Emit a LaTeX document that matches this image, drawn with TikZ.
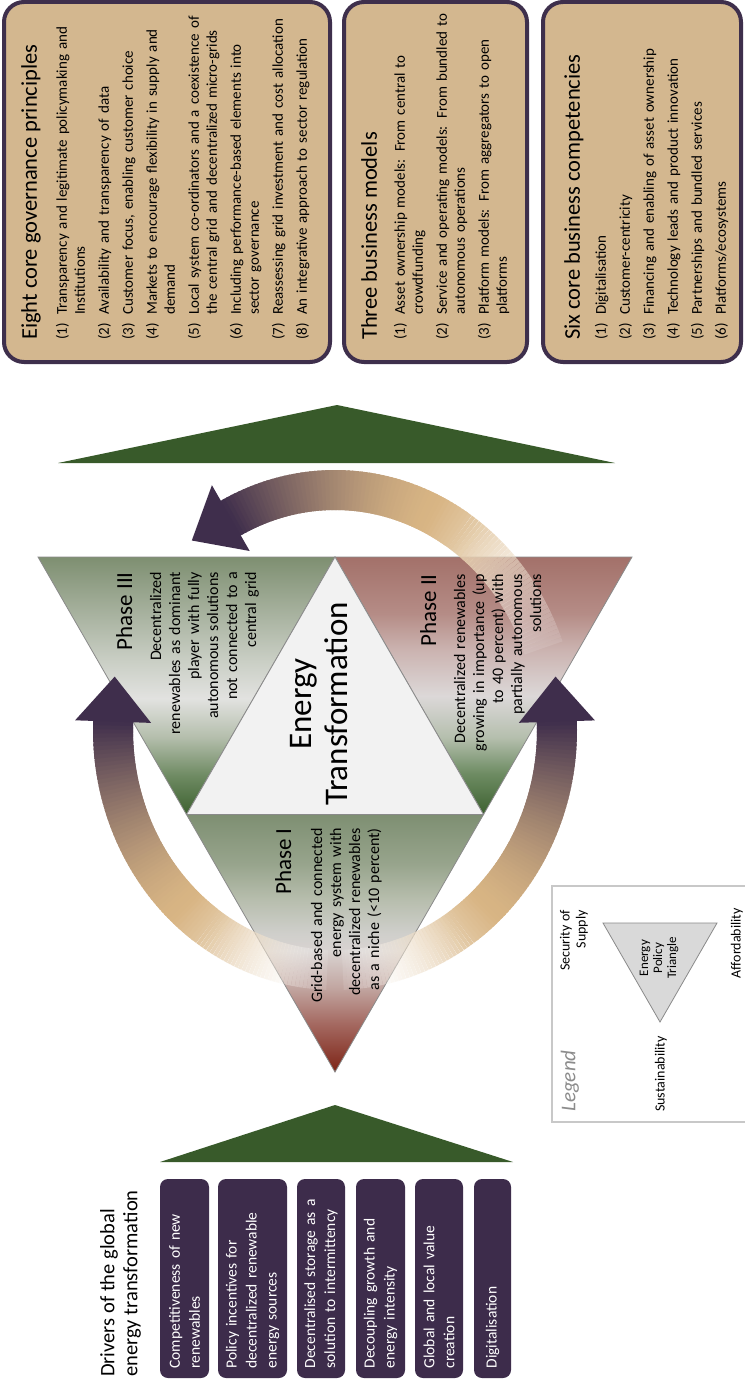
\documentclass[tikz,border=0pt]{standalone}
\usepackage{fontspec}
\setmainfont{Carlito}
\usetikzlibrary{calc}
\definecolor{boxtan}{HTML}{D3B78F}
\definecolor{boxedge}{HTML}{3E2F4C}
\definecolor{drvpurple}{HTML}{3D2C4B}
\definecolor{darkgreen}{HTML}{385A2A}
\definecolor{phline}{HTML}{8A8A8A}
\definecolor{centerfill}{HTML}{F2F2F2}
\definecolor{arrtan}{HTML}{D8B584}
\definecolor{arrpurple}{HTML}{3F2E4C}
\definecolor{legendgray}{HTML}{8C8C8C}
\definecolor{legendline}{HTML}{C8C8C8}
\definecolor{legendfill}{HTML}{D9D9D9}
% phase III stops
\definecolor{pta}{HTML}{3D6130}
\definecolor{ptb}{HTML}{6E8A62}
\definecolor{ptc}{HTML}{B4BEAC}
\definecolor{ptd}{HTML}{E2E2E0}
\definecolor{pte}{HTML}{C9CEC4}
\definecolor{ptf}{HTML}{7E8F71}
% phase II stops
\definecolor{pwa}{HTML}{3D6130}
\definecolor{pwb}{HTML}{6E8C63}
\definecolor{pwc}{HTML}{B5BFAE}
\definecolor{pwd}{HTML}{DCD8D8}
\definecolor{pwe}{HTML}{CBB3B0}
\definecolor{pwf}{HTML}{B58C86}
\definecolor{pwg}{HTML}{A3716A}
% phase I stops
\definecolor{poa}{HTML}{7D2416}
\definecolor{pob}{HTML}{A56A62}
\definecolor{poc}{HTML}{C2A7A2}
\definecolor{pod}{HTML}{D9D3D1}
\definecolor{poe}{HTML}{CFCFCB}
\definecolor{pof}{HTML}{B5BCAB}
\definecolor{pog}{HTML}{97A48C}
\definecolor{poh}{HTML}{7E8F72}
\pgfdeclareverticalshading{phthree}{100bp}{color(0bp)=(pta); color(25bp)=(pta); color(32.5bp)=(ptb); color(40bp)=(ptc); color(47.5bp)=(ptd); color(55bp)=(pte); color(75bp)=(ptf); color(100bp)=(ptf)}
\pgfdeclareverticalshading{phtwo}{100bp}{color(0bp)=(pwa); color(25bp)=(pwa); color(33bp)=(pwb); color(40bp)=(pwc); color(48bp)=(pwd); color(57bp)=(pwe); color(64bp)=(pwf); color(75bp)=(pwg); color(100bp)=(pwg)}
\pgfdeclareverticalshading{phone}{100bp}{color(0bp)=(poa); color(25bp)=(poa); color(34.5bp)=(pob); color(41.5bp)=(poc); color(48.5bp)=(pod); color(52bp)=(poe); color(59bp)=(pof); color(65.5bp)=(pog); color(75bp)=(poh); color(100bp)=(poh)}
\newcommand{\numitem}[2]{\par\hangindent=25pt\hangafter=1\noindent\makebox[25pt][l]{#1}#2}
\newcommand{\ringarrow}[2]{%
  \foreach \k in {0,...,95}{%
    \pgfmathsetmacro{\arcT}{(\k+0.5)/96}%
    \pgfmathsetmacro{\arcO}{min(1,0.1+\arcT*2.5)}%
    \pgfmathsetmacro{\arcA}{#1+(#2-(#1))*\k/96}%
    \pgfmathsetmacro{\arcB}{#1+(#2-(#1))*(\k+1+ifthenelse(\arcO>=0.999,0.7,0))/96}%
    \pgfmathsetmacro{\arcW}{100*max(0,min(1,(\arcT-0.05)/0.4))}%
    \pgfmathsetmacro{\arcP}{100*(max(0,min(1,(\arcT-0.45)/0.55)))^1.5}%
    \colorlet{segA}{arrtan!\arcW!white}%
    \colorlet{segB}{arrpurple!\arcP!segA}%
    \draw[line width=40pt, draw=segB, draw opacity=\arcO] ($(O)+(\arcA:222 and 240)$) arc[start angle=\arcA, end angle=\arcB, x radius=222, y radius=240];
  }}
\begin{document}
\begin{tikzpicture}[x=1pt,y=-1pt,
  tanbox/.style={draw=boxedge, line width=4pt, fill=boxtan, rounded corners=20pt, rotate=90, inner sep=0pt},
  boxtext/.style={rotate=90, text width=335pt, align=left, inner sep=0pt, anchor=north west, font=\fontsize{15}{18}\selectfont},
  drvbox/.style={rotate=90, fill=drvpurple, rounded corners=8pt, text=white, align=left, text width=180pt, minimum width=199pt, inner sep=0pt, font=\fontsize{15.5}{20}\selectfont},
  phasetext/.style={rotate=90, text width=200pt, align=right, inner sep=0pt, anchor=north east, font=\fontsize{16}{19}\selectfont},
  phedge/.style={draw=phline, line width=0.8pt},
  headfill/.style={fill=arrpurple},
]
\useasboundingbox (0,0) rectangle (744,1383);
\fill[white] (0,0) rectangle (744,1383);

% ---------- top boxes ----------
\node[tanbox, minimum width=360pt, minimum height=326pt] (eightbox) at (167,182) {};
\node[tanbox, minimum width=360pt, minimum height=183pt] (threebox) at (435.5,182) {};
\node[tanbox, minimum width=360pt, minimum height=198pt] (sixbox) at (642,182) {};

\node[boxtext] (eighttext) at (21,340) {\setlength{\parskip}{6pt}{\fontsize{22.5}{27}\selectfont Eight core governance principles\par}\vspace{6pt}%
\numitem{(1)}{Transparency and legitimate policymaking and\newline Institutions}
\numitem{(2)}{Availability and transparency of data}
\numitem{(3)}{Customer focus, enabling customer choice}
\numitem{(4)}{Markets to encourage flexibility in supply and\newline demand}
\numitem{(5)}{Local system co-ordinators and a coexistence of\newline the central grid and decentralized micro-grids}
\numitem{(6)}{Including performance-based elements into\newline sector governance}
\numitem{(7)}{Reassessing grid investment and cost allocation}
\numitem{(8)}{An integrative approach to sector regulation}\par};

\node[boxtext] (threetext) at (361,340) {\setlength{\parskip}{6pt}{\fontsize{22.5}{27}\selectfont Three business models\par}\vspace{4pt}%
\numitem{(1)}{Asset ownership models: From central to\newline crowdfunding}
\numitem{(2)}{Service and operating models: From bundled to\newline autonomous operations}
\numitem{(3)}{Platform models: From aggregators to open\newline platforms}\par};

\node[boxtext] (sixtext) at (564,340) {\setlength{\parskip}{6pt}{\fontsize{22.5}{27}\selectfont Six core business competencies\par}\vspace{2pt}%
\numitem{(1)}{Digitalisation}
\numitem{(2)}{Customer-centricity}
\numitem{(3)}{Financing and enabling of asset ownership}
\numitem{(4)}{Technology leads and product innovation}
\numitem{(5)}{Partnerships and bundled services}
\numitem{(6)}{Platforms/ecosystems}\par};

% ---------- green wedges ----------
\coordinate (gta) at (58,463);
\coordinate (gtb) at (615,463);
\coordinate (gtc) at (337,405);
\fill[darkgreen] (gta) -- (gtb) -- (gtc) -- cycle;
\coordinate (gba) at (160,1162);
\coordinate (gbb) at (513,1162);
\coordinate (gbc) at (335,1105);
\fill[darkgreen] (gba) -- (gbb) -- (gbc) -- cycle;

% ---------- phase triangles ----------
\coordinate (A) at (38,557);
\coordinate (B) at (632,557);
\coordinate (C) at (335,1072);
\coordinate (M3) at (335,557);
\coordinate (M1) at (483.5,814.5);
\coordinate (M2) at (186.5,814.5);
\path[phedge, shade, shading=phthree] (A) -- (M3) -- (M2) -- cycle;
\path[phedge, shade, shading=phtwo] (M3) -- (B) -- (M1) -- cycle;
\path[phedge, shade, shading=phone] (M2) -- (M1) -- (C) -- cycle;
\path[phedge, fill=centerfill] (M3) -- (M1) -- (M2) -- cycle;

% ---------- ring arrows ----------
\coordinate (O) at (335,730);
\ringarrow{92}{182}
\ringarrow{88}{-2}
\ringarrow{-20}{-118}
\coordinate (lht) at (114.7,676.6);
\coordinate (lhb1) at (151.1,722.9);
\coordinate (lhb2) at (75.1,720.3);
\fill[headfill] (lht) -- (lhb1) -- (lhb2) -- cycle;
\coordinate (rht) at (555.5,676.6);
\coordinate (rhb1) at (594.9,720.4);
\coordinate (rhb2) at (518.9,722.8);
\fill[headfill] (rht) -- (rhb1) -- (rhb2) -- cycle;
\coordinate (tht) at (191.8,540.5);
\coordinate (thb1) at (249.7,551.0);
\coordinate (thb2) at (211.9,485.2);
\fill[headfill] (tht) -- (thb1) -- (thb2) -- cycle;

% ---------- phase texts ----------
\node[phasetext] (p3text) at (116,572) {{\fontsize{23}{28}\selectfont Phase III\par}\vspace{10pt}Decentralized\\ renewables as dominant\\ player with fully\\ autonomous solutions\\ not connected to a\\ central grid};
\node[phasetext] (p2text) at (420,574) {{\fontsize{23}{28}\selectfont Phase II\par}\vspace{10pt}Decentralized renewables\\ growing in importance (up\\ to 40 percent) with\\ partially autonomous\\ solutions};
\node[phasetext] (p1text) at (275,828) {{\fontsize{23}{28}\selectfont Phase I\par}\vspace{12pt}Grid-based and connected\\ energy system with\\ decentralized renewables\\ as a niche (<10 percent)};
\node[rotate=90, align=center, font=\fontsize{33}{36}\selectfont] (etext) at (319,704) {Energy\\Transformation};

% ---------- legend ----------
\node[draw=legendline, line width=1.5pt, minimum width=200pt, minimum height=236pt, inner sep=0pt] (legendbox) at (652,1004) {};
\node[rotate=90, font=\fontsize{21}{24}\selectfont\itshape, text=legendgray] (legendlabel) at (570,1081) {Legend};
\coordinate (lta) at (603,923);
\coordinate (ltb) at (717,923);
\coordinate (ltc) at (660,1022);
\path[fill=legendfill, draw=phline, line width=0.8pt] (lta) -- (ltb) -- (ltc) -- cycle;
\node[rotate=90, align=center, font=\fontsize{13}{14}\selectfont] (ept) at (659,958) {Energy\\Policy\\Triangle};
\node[rotate=90, font=\fontsize{14}{16}\selectfont] (sust) at (661,1074) {Sustainability};
\node[rotate=90, align=right, anchor=east, inner sep=0pt, font=\fontsize{14}{16}\selectfont] (secsup) at (574,910) {Security of\\Supply};
\node[rotate=90, anchor=east, inner sep=0pt, font=\fontsize{14}{16}\selectfont] (afford) at (737,908) {Affordability};

% ---------- drivers ----------
\node[rotate=90, align=left, anchor=north west, inner sep=0pt, font=\fontsize{20.5}{23}\selectfont] (drvtitle) at (100,1377) {Drivers of the global\\energy transformation};
\node[drvbox, minimum height=49pt] (d1) at (184.5,1278.5) {Competitiveness of new\\renewables};
\node[drvbox, minimum height=69pt] (d2) at (252.5,1278.5) {Policy incentives for\\decentralized renewable\\energy sources};
\node[drvbox, minimum height=48pt] (d3) at (321,1278.5) {Decentralised storage as a\\solution to intermittency};
\node[drvbox, minimum height=49pt] (d4) at (380.5,1278.5) {Decoupling growth and\\energy intensity};
\node[drvbox, minimum height=48pt] (d5) at (439,1278.5) {Global and local value\\creation};
\node[drvbox, minimum height=37pt] (d6) at (492.5,1278.5) {Digitalisation};
\end{tikzpicture}
\end{document}
